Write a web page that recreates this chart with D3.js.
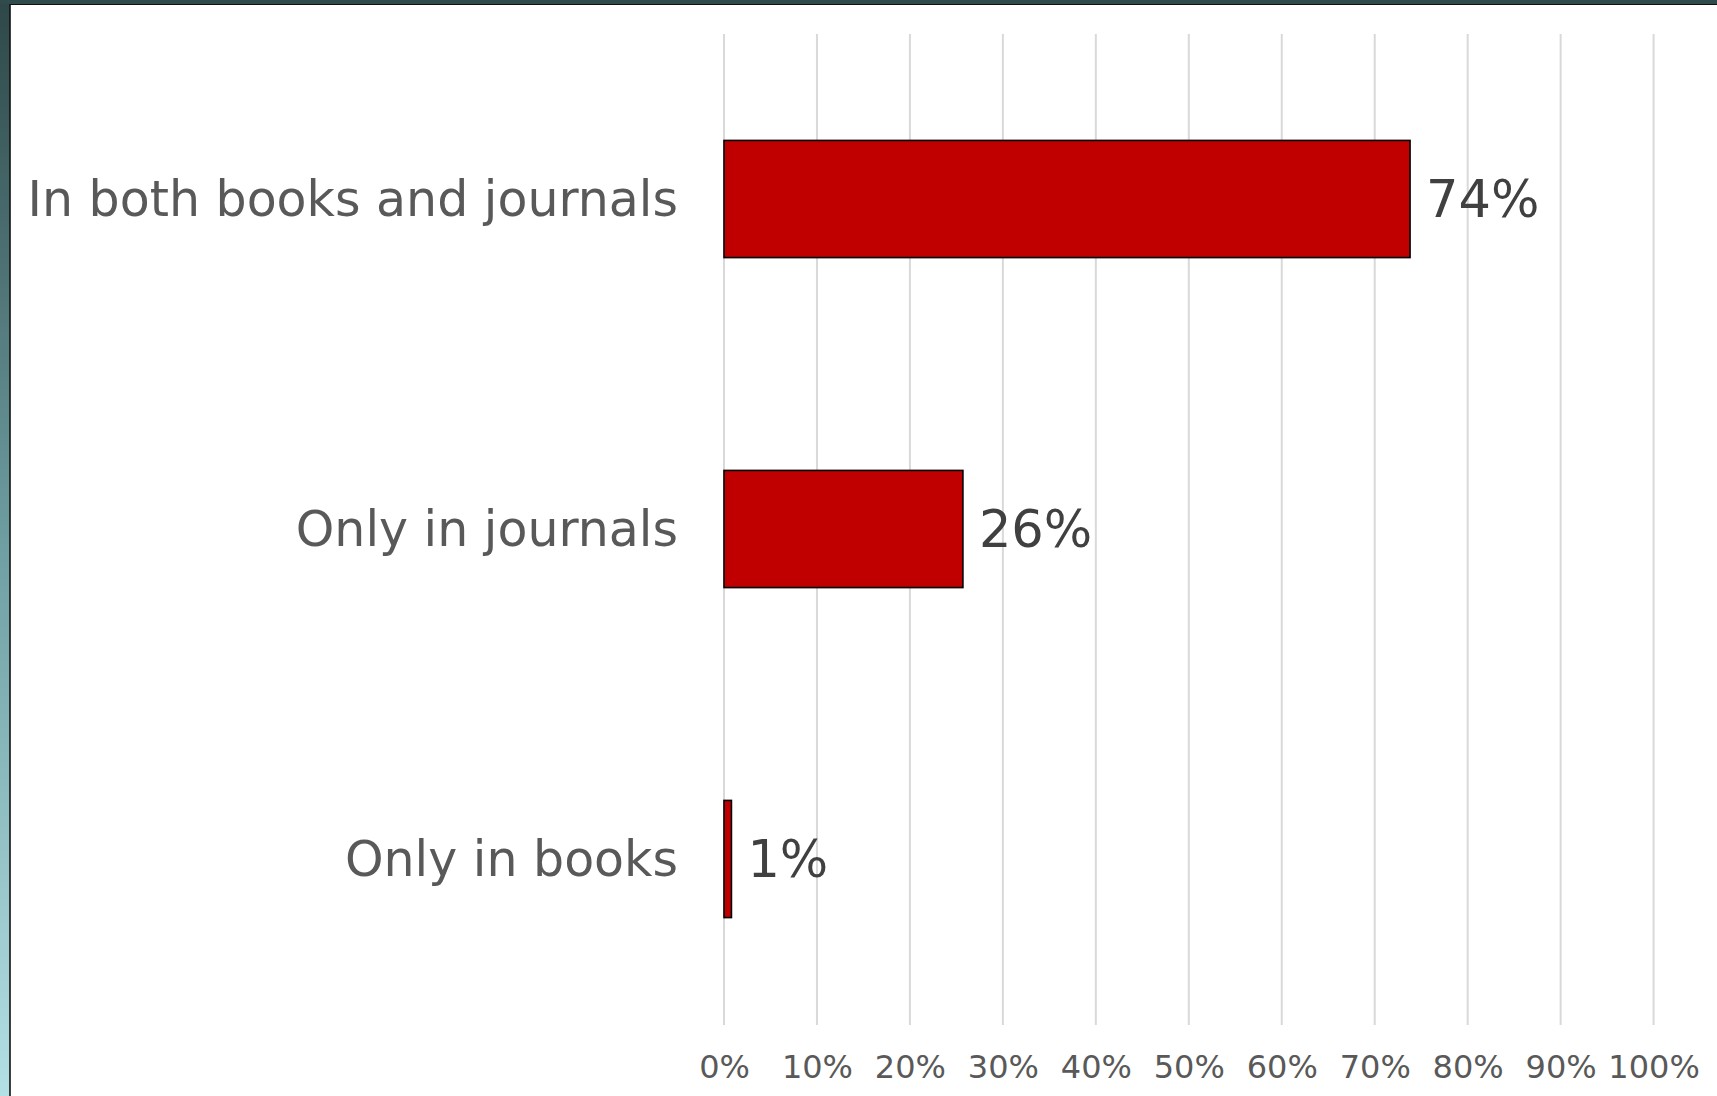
<!DOCTYPE html>
<html><head><meta charset="utf-8">
<script src="https://cdn.jsdelivr.net/npm/d3@7"></script>
<style>html,body{margin:0;padding:0;background:#fff;overflow:hidden}</style>
</head><body>
<script>
const categories = ["In both books and journals", "Only in journals", "Only in books"];
const values = [0.738, 0.257, 0.008];
const valueLabels = ["74%", "26%", "1%"];
const tickValues = [0,0.1,0.2,0.3,0.4,0.5,0.6,0.7,0.8,0.9,1.0];

const W = 1717, H = 1096;
const svg = d3.select("body").append("svg").attr("width", W).attr("height", H);
const defs = svg.append("defs");
const lg = defs.append("linearGradient").attr("id","lg").attr("x1",0).attr("y1",0).attr("x2",0).attr("y2",1);
lg.append("stop").attr("offset","0%").attr("stop-color","#2e4748");
lg.append("stop").attr("offset","50%").attr("stop-color","#6f9fa2");
lg.append("stop").attr("offset","100%").attr("stop-color","#b3e0e4");

// frame
svg.append("rect").attr("x",0).attr("y",0).attr("width",10).attr("height",H).attr("fill","url(#lg)");
svg.append("rect").attr("x",0).attr("y",0).attr("width",W).attr("height",4).attr("fill","#2f4b4c");
svg.append("line").attr("x1",10).attr("x2",10).attr("y1",4).attr("y2",H).attr("stroke","#111").attr("stroke-width",1.6);
svg.append("line").attr("x1",10).attr("x2",W).attr("y1",4.5).attr("y2",4.5).attr("stroke","#111").attr("stroke-width",1.2);

const x = d3.scaleLinear().domain([0,1]).range([724, 1653.6]);
const y = d3.scaleBand().domain(categories).range([34, 1024]).paddingInner(0.645).paddingOuter(0.3225);

// gridlines
svg.append("g").selectAll("line").data(tickValues).join("line")
  .attr("x1", d=>x(d)).attr("x2", d=>x(d)).attr("y1", 34).attr("y2", 1025)
  .attr("stroke","#d9d9d9").attr("stroke-width",2);

// x axis labels
const xAxis = d3.axisBottom(x).tickValues(tickValues).tickFormat(d3.format(".0%")).tickSize(0).tickPadding(0);
const gx = svg.append("g").attr("transform","translate(0,1055)").call(xAxis);
gx.select(".domain").remove();
gx.selectAll("text").attr("font-family","'DejaVu Sans', Verdana, sans-serif").attr("font-size",32).attr("fill","#595959");

// category labels
const yAxis = d3.axisLeft(y).tickSize(0).tickPadding(46);
const gy = svg.append("g").attr("transform","translate(724,0)").call(yAxis);
gy.select(".domain").remove();
gy.selectAll("text").attr("font-family","'DejaVu Sans', Verdana, sans-serif").attr("font-size",49).attr("fill","#595959").attr("dy","0.35em");

// bars
svg.append("g").selectAll("rect").data(categories).join("rect")
  .attr("x", x(0)).attr("y", d=>y(d))
  .attr("width", (d,i)=>x(values[i])-x(0)).attr("height", y.bandwidth())
  .attr("fill","#c00000").attr("stroke","#000").attr("stroke-width",1.6);

// value labels
svg.append("g").selectAll("text").data(categories).join("text")
  .attr("x", (d,i)=>x(values[i])+16).attr("y", d=>y(d)+y.bandwidth()/2).attr("dy","0.36em")
  .attr("font-family","'DejaVu Sans', Verdana, sans-serif").attr("font-size",51).attr("fill","#404040")
  .text((d,i)=>valueLabels[i]);
</script>
</body></html>
